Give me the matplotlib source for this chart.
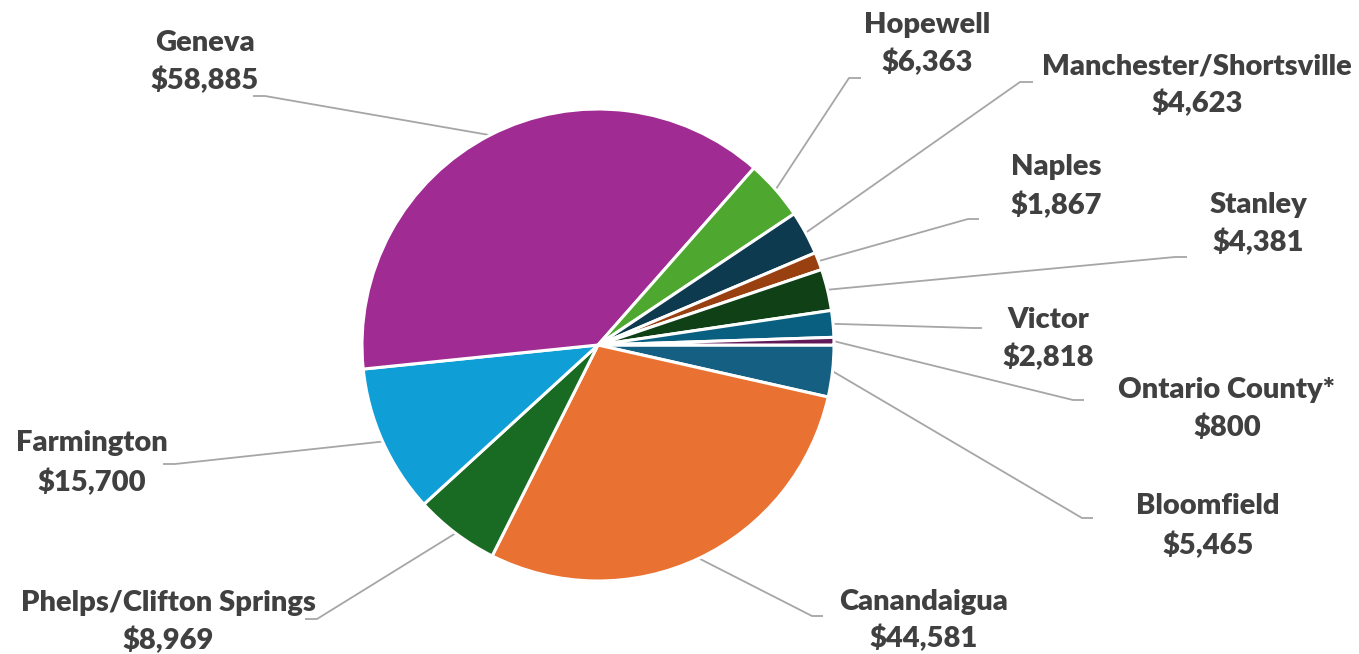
import matplotlib
matplotlib.use('Agg')
import matplotlib.pyplot as plt
import numpy as np

# Data, in the workbook order (first slice starts at 3 o'clock, going clockwise)
towns = ["Bloomfield", "Canandaigua", "Phelps/Clifton Springs", "Farmington",
         "Geneva", "Hopewell", "Manchester/Shortsville", "Naples", "Stanley",
         "Victor", "Ontario County*"]
amounts = [5465, 44581, 8969, 15700, 58885, 6363, 4623, 1867, 4381, 2818, 800]
colors = ["#156082", "#E97132", "#196B24", "#0F9ED5", "#A02B93", "#4EA72E",
          "#0D3A4E", "#994011", "#0F4016", "#095F80", "#601A58"]

# Label layout in pixel coords (y down): text center x, name line y,
# value line y, leader elbow (x, y), leader end x
label_xy = [(1208, 506, 545), (924, 602, 638), (168, 603, 640), (92, 443, 482),
            (205, 43, 80), (927, 25, 62), (1197, 66, 103), (1056, 167, 205),
            (1258, 205, 242), (1048, 320, 357), (1227, 390, 428)]
elbows = [(1082, 518, 1093), (812, 616, 823), (317, 619, 305), (175, 464, 163),
          (265, 96, 253), (849, 78, 861), (1020, 82, 1033), (968, 219, 979),
          (1175, 257, 1187), (973, 328, 982), (1073, 400, 1084)]

W, H = 1359, 654
fig = plt.figure(figsize=(W / 100, H / 100), dpi=100)
ax = fig.add_axes([0, 0, 1, 1])

cx, cy, r = 598, H - 345, 236
wedges, _ = ax.pie(amounts, colors=colors, startangle=0, counterclock=False,
                   center=(cx, cy), radius=r,
                   wedgeprops=dict(edgecolor='white', linewidth=2.2))
# pie() resets the limits, so set the pixel frame afterwards
ax.set_xlim(0, W)
ax.set_ylim(0, H)
ax.set_aspect('equal')
ax.axis('off')

txt = dict(fontfamily=['Lato', 'DejaVu Sans'], fontweight='heavy', fontsize=21,
           color='#404040', ha='center', va='center')

for w, name, val, (tx, ny, vy), (ex, ey, endx) in zip(wedges, towns, amounts, label_xy, elbows):
    mid = np.deg2rad((w.theta1 + w.theta2) / 2)
    px = cx + r * np.cos(mid)
    py = cy + r * np.sin(mid)
    ax.plot([px, ex, endx], [py, H - ey, H - ey], color='#A6A6A6', lw=1.3,
            solid_capstyle='butt', zorder=0.5)
    ax.text(tx, H - ny, name, **txt)
    ax.text(tx, H - vy, f"${val:,}", **txt)

fig.savefig('out.png', dpi=100)
